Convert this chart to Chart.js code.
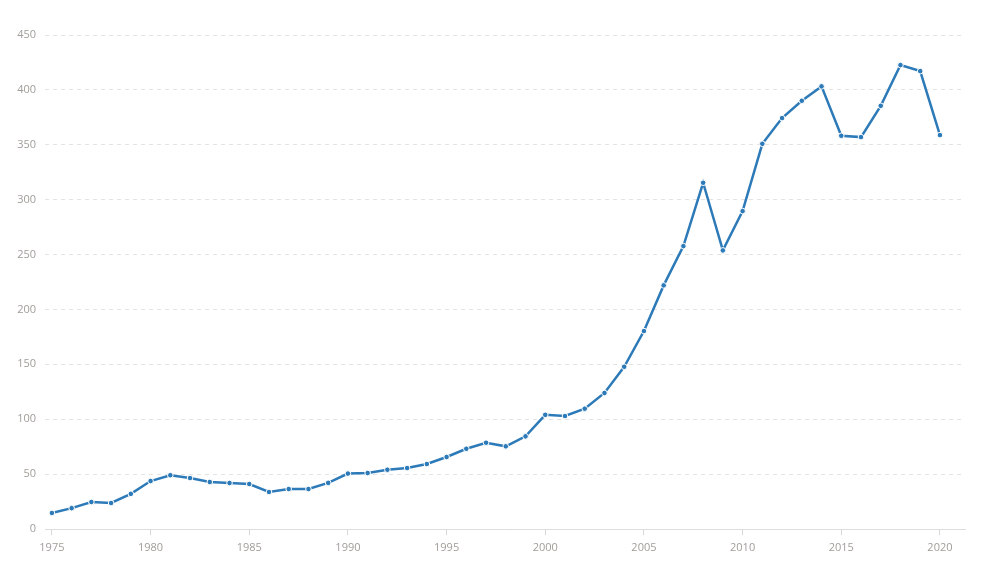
<!DOCTYPE html>
<html>
<head>
<meta charset="utf-8">
<script src="https://cdn.jsdelivr.net/npm/chart.js@4/dist/chart.umd.min.js"></script>
<style>
  html, body { margin: 0; padding: 0; background: #fff; }
  .wrap { width: 990px; height: 567px; position: relative; }
</style>
</head>
<body>
<div class="wrap"><canvas id="lineChart"></canvas></div>
<script>
// Data
const years = [1975, 1976, 1977, 1978, 1979, 1980, 1981, 1982, 1983, 1984,
  1985, 1986, 1987, 1988, 1989, 1990, 1991, 1992, 1993, 1994,
  1995, 1996, 1997, 1998, 1999, 2000, 2001, 2002, 2003, 2004,
  2005, 2006, 2007, 2008, 2009, 2010, 2011, 2012, 2013, 2014,
  2015, 2016, 2017, 2018, 2019, 2020];
const values = [14.6, 19, 24.6, 23.7, 32, 43.7, 49, 46.4, 42.8, 41.9,
  41, 33.7, 36.4, 36.4, 42, 50.5, 51, 54, 55.5, 59.2,
  65.6, 73.1, 78.6, 75.3, 84.4, 104, 102.9, 109.6, 123.9, 147.8,
  180.3, 221.9, 257.7, 315.4, 253.8, 289.6, 350.9, 374.3, 390.1, 403.2,
  358.2, 357, 385.5, 422.6, 417.1, 358.8];
const xTicks = [1975, 1980, 1985, 1990, 1995, 2000, 2005, 2010, 2015, 2020];
const yTicks = [0, 50, 100, 150, 200, 250, 300, 350, 400, 450];

const points = years.map((y, i) => ({ x: y, y: values[i] }));
const labelColor = "#a19d98";

const ctx = document.getElementById("lineChart").getContext("2d");
new Chart(ctx, {
  type: "line",
  data: {
    datasets: [
      {
        data: points,
        borderColor: "#2d7ab8",
        borderWidth: 2.5,
        pointRadius: 2.8,
        pointBackgroundColor: "#2d7ab8",
        pointBorderColor: "#ffffff",
        pointBorderWidth: 1,
        tension: 0,
      },
    ],
  },
  options: {
    responsive: true,
    maintainAspectRatio: false,
    animation: false,
    layout: { padding: { top: 35, right: 25, left: 0, bottom: 0 } },
    plugins: { legend: { display: false }, tooltip: { enabled: false } },
    scales: {
      x: {
        type: "linear",
        min: 1974.65,
        max: 2021.27,
        afterBuildTicks: (s) => { s.ticks = xTicks.map((v) => ({ value: v })); },
        afterFit: (s) => { s.height = 38; },
        border: { display: true, color: "#dddddd", width: 1 },
        grid: { drawOnChartArea: false, drawTicks: true, tickLength: 6, color: "#d6d6d6" },
        ticks: {
          color: labelColor,
          padding: 6,
          maxRotation: 0,
          font: { family: "'Open Sans'", size: 11 },
          callback: (v) => String(v),
        },
      },
      y: {
        min: 0,
        max: 450,
        afterBuildTicks: (s) => { s.ticks = yTicks.map((v) => ({ value: v })); },
        afterFit: (s) => { s.width = 45; },
        border: { display: false, dash: [4, 4] },
        grid: { color: "#e3e3e3", drawTicks: false, lineWidth: 1 },
        ticks: {
          color: labelColor,
          padding: 9,
          font: { family: "'Open Sans'", size: 11 },
        },
      },
    },
  },
});
</script>
</body>
</html>
